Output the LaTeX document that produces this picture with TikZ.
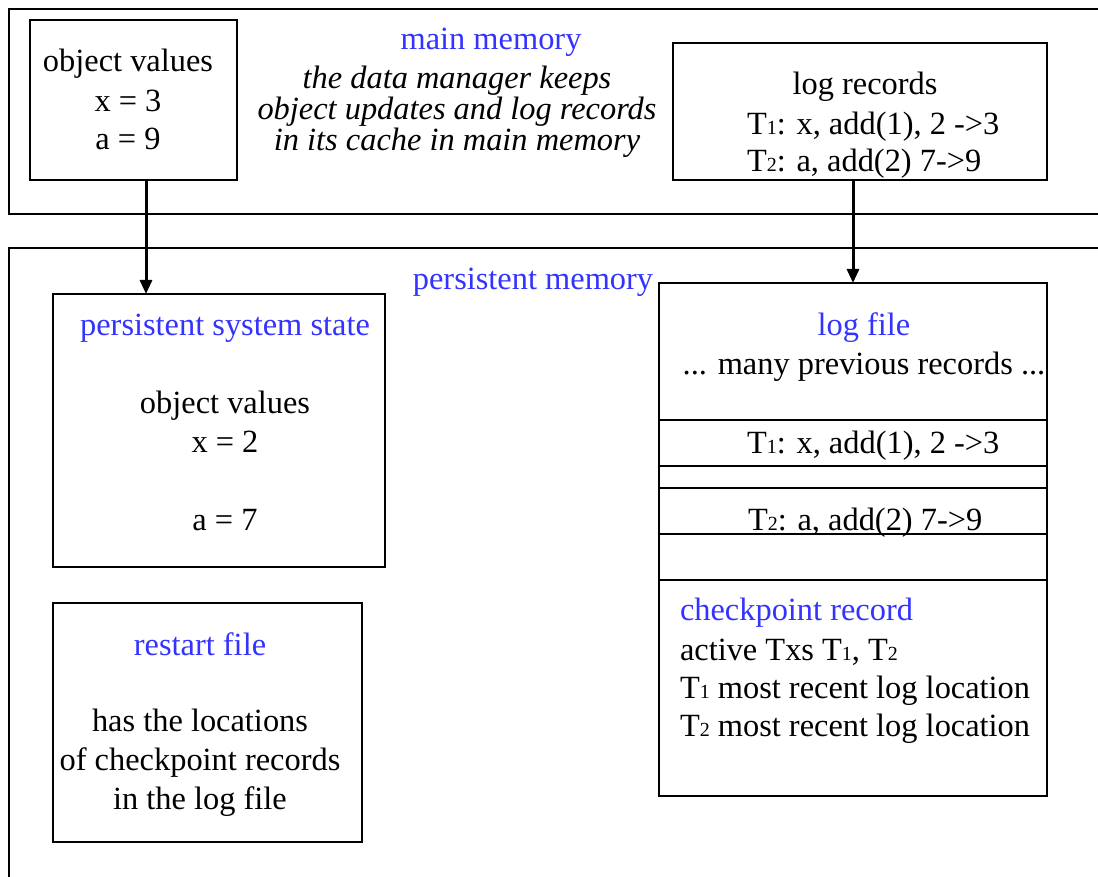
\documentclass[tikz,border=0pt]{standalone}
\usepackage{fontspec}
\setmainfont{Liberation Serif}
\usetikzlibrary{arrows.meta}
\definecolor{labelblue}{RGB}{51,51,255}
% small digit set on the baseline, as in T1, T2
\newcommand{\sbs}[1]{{\fontsize{20pt}{20pt}\selectfont #1}}

\begin{document}
\begin{tikzpicture}[x=1pt,y=-1pt,
  every node/.style={font=\fontsize{32.4pt}{39pt}\selectfont, inner sep=0pt, outer sep=0pt},
  frame/.style={draw=black, line width=1.7pt, rectangle, anchor=north west},
  txt/.style={anchor=base},
  txtl/.style={anchor=base west},
  lbl/.style={anchor=base, text=labelblue},
  lbll/.style={anchor=base west, text=labelblue},
  link/.style={draw, line width=3pt, -{Triangle[length=14pt,width=12pt]}},
  rowrule/.style={line width=1.7pt}]

\useasboundingbox (0,0) rectangle (1098,877);

% ---------- main memory ----------
\node[frame, minimum width=1111pt, minimum height=205pt] (mainmem) at (9,9) {};
\node[lbl] (mmlabel) at (491,50) {main memory};
\node[txt, font=\fontsize{32.4pt}{39pt}\selectfont\itshape] (note1) at (457,89) {the data manager keeps};
\node[txt, font=\fontsize{32.4pt}{39pt}\selectfont\itshape] (note2) at (457,120) {object updates and log records};
\node[txt, font=\fontsize{32.4pt}{39pt}\selectfont\itshape] (note3) at (457,151) {in its cache in main memory};

\node[frame, minimum width=207pt, minimum height=160pt] (objcache) at (30,20) {};
\node[txt] (oc1) at (128,72) {object values};
\node[txt] (oc2) at (128,112) {x = 3};
\node[txt] (oc3) at (128,150) {a = 9};

\node[frame, minimum width=374pt, minimum height=137pt] (logcache) at (673,43) {};
\node[txt] (lc1) at (865,95) {log records};
\node[txtl] (lc2) at (747,135) {T\sbs{1}: x, add(1), 2 ->3};
\node[txtl] (lc3) at (747,172) {T\sbs{2}: a, add(2) 7->9};

% ---------- persistent memory ----------
\node[frame, minimum width=1111pt, minimum height=700pt] (permem) at (9,248) {};
\node[lbl] (pmlabel) at (533,290) {persistent memory};

\node[frame, minimum width=332pt, minimum height=273pt] (pss) at (53,294) {};
\node[lbl] (pss1) at (225,336) {persistent system state};
\node[txt] (pss2) at (225,413) {object values};
\node[txt] (pss3) at (225,452) {x = 2};
\node[txt] (pss4) at (225,530) {a = 7};

\node[frame, minimum width=309pt, minimum height=239pt] (restart) at (53,603) {};
\node[lbl] (rs1) at (200,655) {restart file};
\node[txt] (rs2) at (200,731) {has the locations};
\node[txt] (rs3) at (200,770) {of checkpoint records};
\node[txt] (rs4) at (200,809) {in the log file};

\node[frame, minimum width=388pt, minimum height=513pt] (logfile) at (659,283) {};
\node[lbl] (lf1) at (864,336) {log file};
\node[txt] (lf2) at (864,374) {... many previous records ...};
\foreach \ry in {420,466,488,534,580}
  \draw[rowrule] (logfile.west |- 0,\ry) -- (logfile.east |- 0,\ry);
\node[txtl] (lf3) at (747,453) {T\sbs{1}: x, add(1), 2 ->3};
\node[txtl] (lf4) at (748,530) {T\sbs{2}: a, add(2) 7->9};
\node[lbll] (cp1) at (680,620) {checkpoint record};
\node[txtl] (cp2) at (680,660) {active Txs T\sbs{1}, T\sbs{2}};
\node[txtl] (cp3) at (680,698) {T\sbs{1} most recent log location};
\node[txtl] (cp4) at (680,736) {T\sbs{2} most recent log location};

% ---------- flushes from cache to persistent memory ----------
\draw[link] (objcache.south -| 146,0) -- (pss.north -| 146,0);
\draw[link] (logcache.south -| 853,0) -- (logfile.north -| 853,0);

\end{tikzpicture}
\end{document}
